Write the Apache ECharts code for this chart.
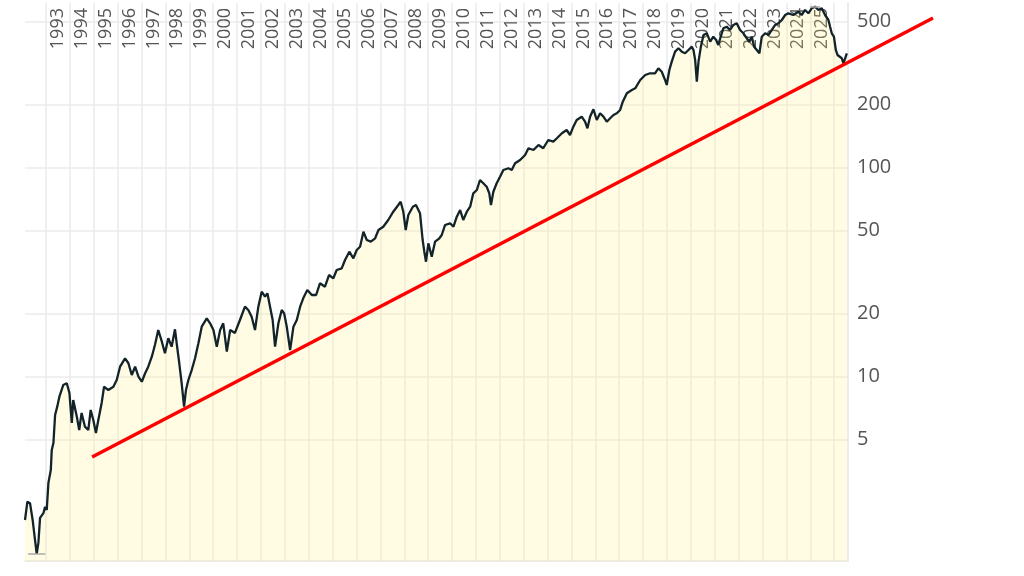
<!DOCTYPE html>
<html>
<head>
<meta charset="utf-8">
<script src="https://cdn.jsdelivr.net/npm/echarts@6/dist/echarts.min.js"></script>
<style>
  html, body { margin: 0; padding: 0; background: #fff; }
  #chart { width: 1024px; height: 576px; }
</style>
</head>
<body>
<div id="chart"></div>
<script>
// price history (decimal year, close)
var dates = [
  1992.12, 1992.22, 1992.33, 1992.44, 1992.54, 1992.61, 1992.68, 1992.75, 1992.89, 1992.96,
  1993.03, 1993.10, 1993.20, 1993.24, 1993.31, 1993.38, 1993.47, 1993.56, 1993.72, 1993.87,
  1993.98, 1994.08, 1994.14, 1994.29, 1994.39, 1994.49, 1994.63, 1994.77, 1994.87, 1994.98,
  1995.09, 1995.19, 1995.33, 1995.43, 1995.61, 1995.82, 1995.96, 1996.10, 1996.31, 1996.45,
  1996.59, 1996.73, 1996.87, 1997.01, 1997.15, 1997.28, 1997.43, 1997.56, 1997.70, 1997.85,
  1997.98, 1998.12, 1998.26, 1998.40, 1998.47, 1998.58, 1998.68, 1998.78, 1998.86, 1998.96,
  1999.10, 1999.24, 1999.38, 1999.52, 1999.73, 1999.87, 2000.01, 2000.15, 2000.29, 2000.42,
  2000.57, 2000.71, 2000.91, 2001.12, 2001.33, 2001.47, 2001.61, 2001.75, 2001.89, 2002.03,
  2002.17, 2002.27, 2002.38, 2002.49, 2002.59, 2002.73, 2002.87, 2002.97, 2003.08, 2003.22,
  2003.36, 2003.50, 2003.64, 2003.77, 2003.94, 2004.13, 2004.31, 2004.47, 2004.68, 2004.85,
  2005.03, 2005.17, 2005.38, 2005.52, 2005.70, 2005.87, 2006.01, 2006.15, 2006.29, 2006.43,
  2006.60, 2006.78, 2006.92, 2007.12, 2007.33, 2007.54, 2007.75, 2007.85, 2007.96, 2008.06,
  2008.17, 2008.36, 2008.49, 2008.66, 2008.77, 2008.84, 2008.91, 2009.01, 2009.15, 2009.29,
  2009.47, 2009.57, 2009.71, 2009.92, 2010.06, 2010.20, 2010.34, 2010.47, 2010.62, 2010.76,
  2010.89, 2011.04, 2011.17, 2011.31, 2011.45, 2011.56, 2011.63, 2011.73, 2011.87, 2012.01,
  2012.15, 2012.36, 2012.50, 2012.64, 2012.85, 2013.06, 2013.20, 2013.41, 2013.62, 2013.82,
  2014.03, 2014.24, 2014.39, 2014.60, 2014.80, 2014.94, 2015.08, 2015.22, 2015.43, 2015.57,
  2015.67, 2015.78, 2015.92, 2016.06, 2016.20, 2016.34, 2016.48, 2016.62, 2016.76, 2016.90,
  2017.04, 2017.15, 2017.32, 2017.53, 2017.67, 2017.88, 2018.09, 2018.29, 2018.50, 2018.64,
  2018.78, 2018.92, 2018.99, 2019.10, 2019.20, 2019.34, 2019.48, 2019.62, 2019.76, 2019.90,
  2020.04, 2020.11, 2020.18, 2020.25, 2020.32, 2020.42, 2020.53, 2020.67, 2020.81, 2020.94,
  2021.06, 2021.15, 2021.25, 2021.36, 2021.50, 2021.64, 2021.78, 2021.92, 2022.06, 2022.20,
  2022.34, 2022.45, 2022.55, 2022.65, 2022.76, 2022.87, 2022.97, 2023.11, 2023.25, 2023.39,
  2023.53, 2023.67, 2023.81, 2023.95, 2024.08, 2024.29, 2024.50, 2024.64, 2024.78, 2024.92,
  2025.06, 2025.20, 2025.34, 2025.48, 2025.62, 2025.76, 2025.83, 2025.90, 2025.99, 2026.07,
  2026.14, 2026.22, 2026.32, 2026.39, 2026.46, 2026.53
];
var closes = [
  2.06, 2.52, 2.48, 2.06, 1.65, 1.42, 1.60, 2.11, 2.22, 2.38,
  2.30, 3.10, 3.57, 4.45, 4.81, 6.55, 7.18, 8.01, 9.11, 9.29,
  8.35, 6.00, 7.73, 6.43, 5.55, 6.70, 5.76, 5.55, 6.92, 6.20,
  5.37, 6.20, 7.48, 8.94, 8.62, 8.94, 9.63, 11.15, 12.23, 11.58,
  10.18, 11.15, 9.99, 9.45, 10.37, 11.15, 12.45, 14.17, 16.71, 14.69,
  12.92, 15.25, 13.90, 16.84, 14.48, 11.58, 9.29, 7.18, 8.62, 9.63,
  10.75, 12.23, 14.43, 17.33, 19.00, 17.99, 16.71, 13.90, 16.71, 17.99,
  13.16, 16.71, 16.17, 18.65, 21.60, 20.83, 19.34, 16.71, 21.60, 25.48,
  24.11, 25.03, 21.60, 18.65, 13.90, 17.99, 20.83, 20.08, 17.33, 13.40,
  17.33, 18.65, 21.60, 23.69, 25.96, 24.57, 24.57, 27.94, 26.92, 30.62,
  29.53, 32.36, 32.96, 36.12, 39.58, 36.81, 40.33, 41.82, 49.35, 45.03,
  44.20, 45.89, 50.28, 52.14, 56.12, 61.51, 66.22, 68.67, 61.51, 50.28,
  59.32, 64.99, 66.22, 60.44, 45.03, 39.58, 35.45, 43.43, 37.46, 44.20,
  45.89, 47.58, 53.13, 54.12, 52.14, 58.21, 62.66, 56.12, 61.51, 64.99,
  75.33, 78.12, 87.21, 84.10, 81.01, 75.33, 66.22, 76.66, 84.10, 90.44,
  97.39, 99.23, 97.39, 104.8, 108.7, 114.9, 123.7, 121.4, 128.3, 123.7,
  135.5, 133.0, 138.1, 145.9, 151.3, 143.2, 156.9, 168.9, 175.2, 165.8,
  154.2, 175.2, 190.1, 168.9, 181.9, 175.2, 165.8, 172.1, 178.5, 181.9,
  188.7, 206.7, 226.8, 235.0, 239.5, 262.5, 277.3, 282.6, 282.6, 298.6,
  287.6, 262.5, 248.4, 293.0, 321.1, 358.6, 372.2, 358.6, 352.3, 365.3,
  378.8, 365.3, 327.1, 257.6, 321.1, 378.8, 430.9, 439.0, 400.3, 422.9,
  407.8, 386.0, 422.9, 463.9, 472.2, 455.4, 481.2, 490.2, 455.4, 439.0,
  415.5, 400.3, 422.9, 378.8, 365.3, 352.3, 422.9, 439.0, 430.9, 455.4,
  481.2, 490.2, 508.3, 537.1, 547.2, 537.1, 557.0, 537.1, 567.6, 547.2,
  578.3, 588.6, 567.6, 578.3, 537.1, 508.3, 472.2, 439.0, 422.9, 365.3,
  345.8, 352.3, 333.4, 315.5, 333.4, 352.3
];

// red support line end points
var trendDates = [1994.93, 2030.14];
var trendValues = [4.12, 519.6];

// axis ticks
var gridYears = [1993, 1994, 1995, 1996, 1997, 1998, 1999, 2000, 2001, 2002, 2003, 2004,
  2005, 2006, 2007, 2008, 2009, 2010, 2011, 2012, 2013, 2014, 2015, 2016, 2017, 2018,
  2019, 2020, 2021, 2022, 2023, 2024, 2025, 2026];
var labelYears = gridYears.slice(0, gridYears.length - 1);
var priceTicks = [5, 10, 20, 50, 100, 200, 500];

var xMin = 1992.12, xMax = 2026.58;
var yMin = 1.311, yMax = 613;

var chart = echarts.init(document.getElementById('chart'));

var pricePoints = dates.map(function (d, i) { return [d, closes[i]]; });

// short grey marks at lowest and highest close
var lo = Math.min.apply(null, closes);
var hi = Math.max.apply(null, closes);
var loAt = dates[closes.indexOf(lo)];
var hiAt = dates[closes.indexOf(hi)];

var gridColor = '#ebebeb';
var labelColor = '#555';
var font = 'Open Sans';

var option = {
  animation: false,
  backgroundColor: '#fff',
  grid: { left: 25, right: 176, top: 3, bottom: 15, containLabel: false },
  xAxis: [{
    type: 'value',
    position: 'top',
    min: xMin,
    max: xMax,
    axisLine: { show: false },
    axisTick: { show: false, customValues: gridYears },
    splitLine: { show: true, lineStyle: { color: gridColor, width: 1.5 } },
    axisLabel: {
      customValues: labelYears.map(function (y) { return y + 0.5; }),
      formatter: function (v) { return String(Math.floor(v)); },
      inside: true,
      rotate: -90,
      margin: 5,
      fontSize: 18,
      fontFamily: font,
      color: labelColor
    }
  }, {
    type: 'value',
    position: 'bottom',
    min: xMin,
    max: xMax,
    axisLine: { show: true, lineStyle: { color: '#e6e6e6', width: 1.5 } },
    axisTick: { show: false },
    axisLabel: { show: false },
    splitLine: { show: false }
  }],
  yAxis: {
    type: 'log',
    logBase: 10,
    position: 'right',
    min: yMin,
    max: yMax,
    axisLine: { show: true, lineStyle: { color: '#e6e6e6', width: 1.5 } },
    axisTick: { show: false, customValues: priceTicks },
    splitLine: { show: true, lineStyle: { color: gridColor, width: 1.5 } },
    axisLabel: {
      customValues: priceTicks,
      margin: 9,
      fontSize: 20,
      fontFamily: font,
      color: labelColor
    }
  },
  series: [{
    type: 'line',
    xAxisIndex: 0,
    data: pricePoints,
    showSymbol: false,
    lineStyle: { color: '#12232a', width: 2.3 },
    areaStyle: { color: 'rgba(255, 242, 125, 0.3)', origin: 'start' },
    markLine: {
      silent: true,
      symbol: 'none',
      label: { show: false },
      lineStyle: { color: '#aaa', width: 1.5, type: 'solid' },
      data: [
        [{ coord: [loAt - 0.36, lo] }, { coord: [loAt + 0.36, lo] }],
        [{ coord: [hiAt - 0.21, hi] }, { coord: [hiAt + 0.21, hi] }]
      ]
    }
  }]
};

chart.setOption(option);

// the support line runs past the plot edge, so draw it through the axes' own mapping
var trendPx = trendDates.map(function (d, i) {
  return chart.convertToPixel({ xAxisIndex: 0, yAxisIndex: 0 }, [d, trendValues[i]]);
});
chart.setOption({
  graphic: [{
    type: 'polyline',
    z: 100,
    silent: true,
    shape: { points: trendPx },
    style: { stroke: '#ff0000', lineWidth: 3.5, fill: null }
  }]
});
</script>
</body>
</html>
